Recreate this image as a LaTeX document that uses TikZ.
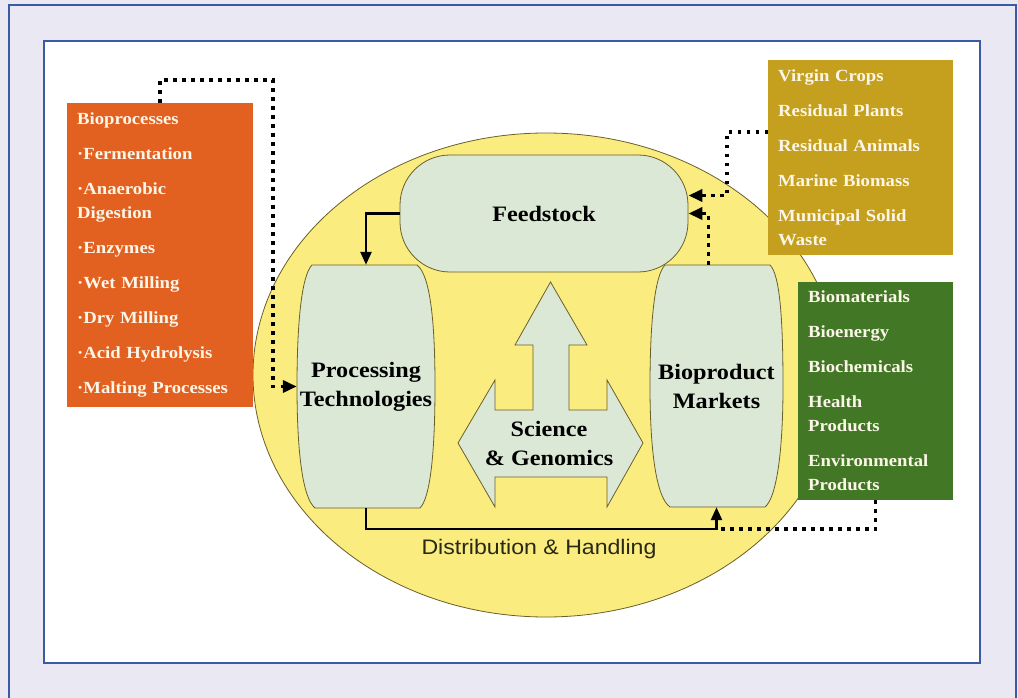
\documentclass[tikz,border=0pt]{standalone}
\usepackage{fontspec}
\setmainfont{Liberation Serif}[FakeStretch=1.1]
\newfontfamily\distfont{Liberation Sans}[FakeStretch=1.1]
\usepackage{xcolor}
\usetikzlibrary{positioning,calc,arrows.meta}

\definecolor{pagebg}{RGB}{234,233,243}
\definecolor{frameblue}{RGB}{58,90,165}
\definecolor{orangebox}{RGB}{226,97,33}
\definecolor{goldbox}{RGB}{197,159,30}
\definecolor{greenbox}{RGB}{66,119,38}
\definecolor{ovalyellow}{RGB}{251,236,128}
\definecolor{palegreen}{RGB}{220,232,214}
\definecolor{olive}{RGB}{105,95,40}
\definecolor{boxtext}{RGB}{252,246,232}

\tikzset{
    listbox/.style={anchor=north west, inner xsep=10pt, inner ysep=0pt, text=boxtext, align=left,
        font=\fontsize{17}{24}\selectfont\bfseries},
    shapefill/.style={fill=palegreen, draw=olive, line width=0.8pt},
    shapetext/.style={font=\fontsize{22}{29}\selectfont\bfseries, align=center, inner sep=0pt},
    flow/.style={line width=2.5pt, -{Triangle[length=13pt,width=11pt]}},
    dotline/.style={line width=3.5pt, dash pattern=on 3.5pt off 5.5pt},
    dotflow/.style={dotline, -{Triangle[length=14pt,width=12pt]}}
}

\begin{document}
\begin{tikzpicture}[x=1pt,y=-1pt]
    \useasboundingbox (0,0) rectangle (1018,698);
    % Page and frame
    \fill[pagebg] (0,0) rectangle (1018,698);
    \draw[frameblue, line width=1.5pt] (9,698) -- (9,5) -- (1016,5) -- (1016,698);
    \draw[frameblue, line width=1.5pt, fill=white] (44,41) rectangle (980,663);

    % Big oval
    \draw[fill=ovalyellow, draw=olive, line width=0.8pt] (546,375) ellipse [x radius=293, y radius=242];

    % Feedstock
    \node[shapefill, rounded corners=50pt, minimum width=288pt, minimum height=117pt,
        shapetext] (feed) at (544,213.5) {Feedstock};

    % Processing and market barrels
    \draw[shapefill] (312,265) -- (417,265) .. controls (430,275) and (435,320) .. (435,386)
        .. controls (435,455) and (430,498) .. (420,508)
        -- (315,508) .. controls (303,498) and (297,455) .. (297,386)
        .. controls (297,320) and (302,275) .. cycle;
    \draw[shapefill] (665,265) -- (770,265) .. controls (780,275) and (783,320) .. (783,386)
        .. controls (783,455) and (776,498) .. (765,507)
        -- (670,507) .. controls (657,498) and (650,455) .. (650,386)
        .. controls (650,320) and (655,275) .. cycle;
    \node[shapetext, minimum width=138pt, minimum height=243pt] (proc) at (366,386.5)
        {Processing\\Technologies};
    \node[shapetext, minimum width=133pt, minimum height=242pt] (market) at (716.5,386)
        {Bioproduct\\Markets};

    % Science arrows
    \draw[shapefill] (550.5,282) -- (587,345) -- (569,345) -- (569,410) -- (607,410) -- (607,380)
        -- (643,443) -- (607,507) -- (607,477) -- (495,477) -- (495,507) -- (458,443)
        -- (495,380) -- (495,410) -- (533,410) -- (533,345) -- (515,345) -- cycle;
    \node[shapetext] (sci) at (549,443) {Science\\\& Genomics};

    % Side boxes
    \node[listbox, fill=orangebox, text width=166pt, minimum height=304pt] (bio) at (67,103)
        {Bioprocesses\\[11pt]
         ·Fermentation\\[11pt]
         ·Anaerobic\\Digestion\\[11pt]
         ·Enzymes\\[11pt]
         ·Wet Milling\\[11pt]
         ·Dry Milling\\[11pt]
         ·Acid Hydrolysis\\[11pt]
         ·Malting Processes};
    \node[listbox, fill=goldbox, text width=165pt, minimum height=195pt] (crops) at (768,60)
        {Virgin Crops\\[11pt]
         Residual Plants\\[11pt]
         Residual Animals\\[11pt]
         Marine Biomass\\[11pt]
         Municipal Solid\\Waste};
    \node[listbox, fill=greenbox, text width=135pt, minimum height=218pt] (prod) at (798,282)
        {Biomaterials\\[11pt]
         Bioenergy\\[11pt]
         Biochemicals\\[11pt]
         Health\\Products\\[11pt]
         Environmental\\Products};

    % Bend points
    \coordinate (bioturn) at (273,80);
    \coordinate (cropturn) at (727,132);
    \coordinate (dist) at ([yshift=-22pt]market.south);

    % Connectors
    \draw[flow] (feed.west) -| (proc.north);
    \draw[flow] (proc.south) |- (dist) -- (market.south);
    \draw[dotflow] (bio.north) |- (bioturn) |- (proc.west);
    \draw[dotflow] (crops.west |- cropturn) -- (cropturn) |- ([yshift=18pt]feed.east);
    \draw[dotflow] ([xshift=-8pt]market.north) |- (feed.east);
    \draw[dotline] (prod.south) |- (dist);

    \node[font=\distfont\fontsize{21}{24}\selectfont, text={rgb,255:red,40;green,40;blue,20}]
        (distlabel) at (539,549) {Distribution \& Handling};
\end{tikzpicture}
\end{document}
